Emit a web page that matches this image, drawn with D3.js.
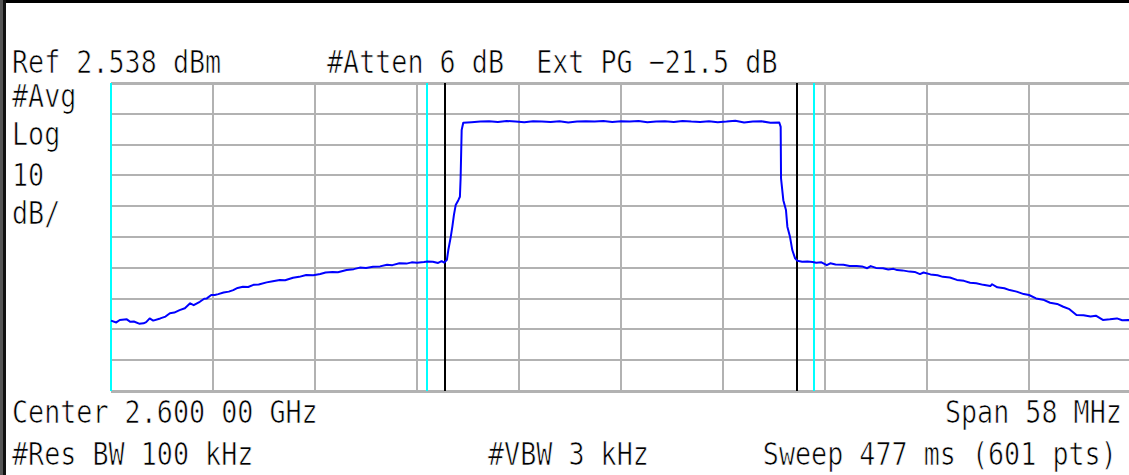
<!DOCTYPE html>
<html>
<head>
<meta charset="utf-8">
<script src="https://cdn.jsdelivr.net/npm/d3@7"></script>
<style>
  html, body { margin: 0; padding: 0; background: #fff; overflow: hidden; }
  svg { display: block; }
  text { white-space: pre; }
</style>
</head>
<body>
<script>
// screen annotations
var topLabels = ["Ref 2.538 dBm", "#Atten 6 dB  Ext PG \u221221.5 dB"];
var sideLabels = ["#Avg", "Log", "10", "dB/"];
var bottomLabels = ["Center 2.600 00 GHz", "Span 58 MHz"];
var footLabels = ["#Res BW 100 kHz", "#VBW 3 kHz", "Sweep 477 ms (601 pts)"];

// axis settings
var refLevel = 2.538;      // dBm, top of screen
var dbPerDiv = 10;
var centerMHz = 2600;
var spanMHz = 58;
var cyanMarkersMHz = [2571, 2589, 2611];
var blackMarkersMHz = [2590, 2610];

// trace
var traceMHz = [
  2571.0, 2571.3, 2571.5, 2571.9, 2572.1, 2572.3, 2572.6, 2572.85, 2573.0, 2573.2,
  2573.4, 2573.8, 2574.1, 2574.35, 2574.6, 2574.9, 2575.2, 2575.5, 2575.7, 2576.05,
  2576.3, 2576.45, 2576.7, 2576.9, 2577.1, 2577.4, 2577.7, 2577.95, 2578.2, 2578.5,
  2578.8, 2579.1, 2579.4, 2579.85, 2580.2, 2580.6, 2580.9, 2581.35, 2581.7, 2582.1,
  2582.5, 2582.9, 2583.2, 2583.6, 2583.9, 2584.4, 2584.8, 2585.15, 2585.5, 2585.9,
  2586.3, 2586.7, 2587.0, 2587.4, 2587.8, 2588.1, 2588.4, 2588.8, 2589.0, 2589.3,
  2589.6, 2589.8, 2589.95, 2590.1, 2590.18, 2590.32, 2590.41, 2590.5, 2590.6, 2590.75,
  2590.84, 2590.88, 2590.94, 2591.03,
  2591.5, 2592.0, 2592.5, 2593.0, 2593.5, 2594.0, 2594.5, 2595.0, 2595.5, 2596.0,
  2596.5, 2597.0, 2597.5, 2598.0, 2598.5, 2599.0, 2599.5, 2600.0, 2600.5, 2601.0,
  2601.5, 2602.0, 2602.5, 2603.0, 2603.5, 2604.0, 2604.5, 2605.0, 2605.5, 2606.0,
  2606.5, 2607.0, 2607.5, 2608.0, 2608.5, 2609.0,
  2609.08, 2609.1, 2609.23, 2609.38, 2609.46, 2609.61, 2609.74, 2609.9, 2610.03, 2610.3,
  2610.6, 2610.9, 2611.1, 2611.4, 2611.7, 2611.9, 2612.2, 2612.65, 2613.0, 2613.4,
  2613.7, 2614.0, 2614.2, 2614.5, 2614.9, 2615.2, 2615.5, 2615.7, 2616.0, 2616.4,
  2616.7, 2617.0, 2617.2, 2617.6, 2618.0, 2618.3, 2618.7, 2619.1, 2619.5, 2619.85,
  2620.2, 2620.6, 2621.0, 2621.1, 2621.4, 2621.8, 2622.1, 2622.5, 2622.9, 2623.2,
  2623.6, 2624.0, 2624.4, 2624.8, 2625.15, 2625.5, 2625.9, 2626.3, 2626.7, 2627.0,
  2627.4, 2627.8, 2628.2, 2628.5, 2628.85, 2629.0
];
var traceDbm = [
  -74.6, -75.2, -74.4, -74.2, -75.0, -74.9, -75.6, -75.5, -75.1, -73.9,
  -74.6, -73.9, -73.3, -72.2, -72.0, -71.2, -70.6, -69.0, -69.6, -68.5,
  -67.5, -67.4, -66.3, -66.3, -66.0, -65.5, -65.2, -64.7, -64.0, -63.6,
  -63.7, -63.0, -62.9, -62.2, -61.8, -61.4, -61.5, -60.7, -60.4, -59.8,
  -59.9, -59.5, -59.0, -58.8, -58.9, -58.2, -57.9, -57.4, -57.5, -57.1,
  -57.0, -56.5, -56.6, -56.0, -56.1, -55.7, -55.8, -55.6, -55.4, -55.5,
  -55.9, -55.3, -55.8, -54.9, -51.7, -47.4, -44.1, -40.3, -37.1, -35.5,
  -34.4, -28.4, -12.7, -10.35,
  -10.2, -10.0, -9.9, -10.1, -9.8, -10.0, -10.2, -9.9, -10.0, -10.1,
  -9.9, -10.3, -10.0, -9.9, -10.0, -9.8, -10.1, -9.9, -10.0, -9.8,
  -10.2, -10.0, -9.9, -10.1, -9.8, -10.0, -10.1, -9.9, -10.2, -10.0,
  -9.7, -10.3, -10.0, -9.9, -10.4, -10.3,
  -11.7, -28.4, -35.5, -38.7, -44.1, -47.4, -51.7, -54.4, -55.2, -55.5,
  -55.4, -55.6, -55.8, -55.7, -56.6, -56.0, -56.4, -56.5, -56.9, -56.9,
  -57.0, -57.6, -56.9, -57.5, -57.6, -58.0, -57.8, -58.2, -58.3, -58.7,
  -58.8, -59.5, -59.0, -59.6, -59.9, -60.4, -60.6, -61.4, -61.7, -62.3,
  -62.5, -63.0, -63.4, -62.8, -63.8, -64.1, -64.7, -65.2, -66.0, -66.3,
  -67.4, -67.8, -68.8, -69.2, -70.1, -70.9, -72.8, -72.9, -73.3, -73.0,
  -74.4, -74.2, -73.9, -74.5, -74.4, -74.6
];

var W = 1129, H = 475;
var plot = { left: 111, right: 1131, top: 83, bottom: 391 };
var pitch = 16.1;   // character cell width of the screen font

var svg = d3.select("body").append("svg")
  .attr("width", W)
  .attr("height", H);

var x = d3.scaleLinear()
  .domain([centerMHz - spanMHz / 2, centerMHz + spanMHz / 2])
  .range([plot.left, plot.right]);
var y = d3.scaleLinear()
  .domain([refLevel - 10 * dbPerDiv, refLevel])
  .range([plot.bottom, plot.top]);

// screen frame
svg.append("rect").attr("x", 0).attr("y", 0).attr("width", W).attr("height", 3).style("fill", "#000");
svg.append("rect").attr("x", 0).attr("y", 0).attr("width", 3).attr("height", H).style("fill", "#555");
svg.append("rect").attr("x", 3).attr("y", 0).attr("width", 3).attr("height", H).style("fill", "#111");

// graticule: 10 x 10 divisions
var xTicks = d3.range(11).map(function(i) { return x.domain()[0] + i * spanMHz / 10; });
var yTicks = d3.range(11).map(function(i) { return refLevel - i * dbPerDiv; });

var grid = svg.append("g").style("stroke", "#b2b2b2").style("shape-rendering", "crispEdges");
grid.selectAll("line.v")
  .data(xTicks).enter()
  .append("line")
  .attr("class", "v")
  .attr("x1", function(d) { return x(d); })
  .attr("x2", function(d) { return x(d); })
  .attr("y1", plot.top)
  .attr("y2", plot.bottom)
  .style("stroke-width", 2);
grid.selectAll("line.h")
  .data(yTicks).enter()
  .append("line")
  .attr("class", "h")
  .attr("x1", plot.left)
  .attr("x2", plot.right)
  .attr("y1", function(d) { return y(d); })
  .attr("y2", function(d) { return y(d); })
  .style("stroke-width", function(d, i) { return (i == 0 || i == 10) ? 3 : 2; });

// markers
var marks = svg.append("g").style("shape-rendering", "crispEdges");
marks.selectAll("line.cyan")
  .data(cyanMarkersMHz).enter()
  .append("line")
  .attr("class", "cyan")
  .attr("x1", function(d) { return x(d) - 0.5; })
  .attr("x2", function(d) { return x(d) - 0.5; })
  .attr("y1", plot.top)
  .attr("y2", plot.bottom)
  .style("stroke", "#00ffff")
  .style("stroke-width", 2);
marks.selectAll("line.black")
  .data(blackMarkersMHz).enter()
  .append("line")
  .attr("class", "black")
  .attr("x1", function(d) { return x(d); })
  .attr("x2", function(d) { return x(d); })
  .attr("y1", plot.top)
  .attr("y2", plot.bottom)
  .style("stroke", "#000")
  .style("stroke-width", 2);

// trace
var points = traceMHz.map(function(f, i) { return [f, traceDbm[i]]; });
var line = d3.line()
  .x(function(d) { return x(d[0]); })
  .y(function(d) { return y(d[1]); });
svg.append("path")
  .datum(points)
  .attr("d", line)
  .style("fill", "none")
  .style("stroke", "#0000ff")
  .style("stroke-width", 2)
  .style("stroke-linejoin", "round");

// annotation text: font sized so one glyph = one cell, stretched tall like the screen font
var fontPx = pitch / 0.602;
function label(str, px, py, anchorEnd) {
  var len = str.length * pitch;
  var x0 = anchorEnd ? px - len : px;
  svg.append("text")
    .attr("transform", "translate(" + x0 + "," + py + ") scale(1,1.2)")
    .attr("xml:space", "preserve")
    .style("font-family", "'DejaVu Sans Mono', monospace")
    .style("font-size", fontPx + "px")
    .style("fill", "#000")
    .style("stroke", "#fff")
    .style("stroke-width", 0.6)
    .text(str);
}

label(topLabels[0], 12, 73);
label(topLabels[1], 327, 73);
sideLabels.forEach(function(s, i) { label(s, 12, [107, 145, 186, 224][i]); });
label(bottomLabels[0], 12, 423);
label(bottomLabels[1], 1122, 423, true);
label(footLabels[0], 12, 465);
label(footLabels[1], 488, 465);
label(footLabels[2], 1117, 465, true);
</script>
</body>
</html>
